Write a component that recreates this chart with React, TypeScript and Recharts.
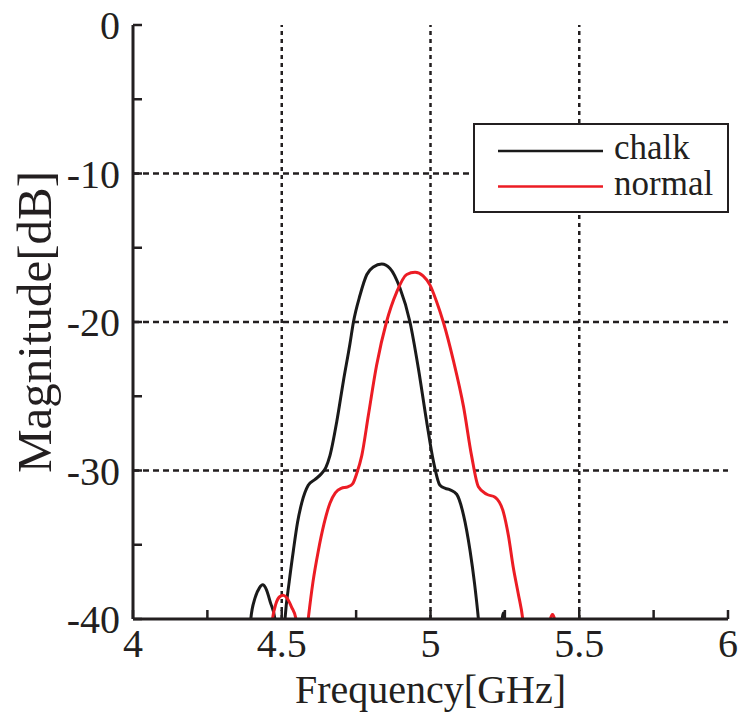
import React from "react";
import { LineChart, Line, XAxis, YAxis, ReferenceLine, Legend } from "recharts";

const FONT = '"Liberation Serif", "Times New Roman", serif';
const INK = "#231f20";

// frequency [GHz] / magnitude [dB]; values under -40 fall outside the frame
const chalk = [
  { f: 4.38, db: -45 }, { f: 4.396, db: -40 }, { f: 4.41, db: -38.6 }, { f: 4.425, db: -37.9 },
  { f: 4.436, db: -37.7 }, { f: 4.448, db: -38.0 }, { f: 4.462, db: -38.9 }, { f: 4.477, db: -40 },
  { f: 4.49, db: -44 }, { f: 4.5, db: -44 }, { f: 4.511, db: -40 }, { f: 4.525, db: -37.5 },
  { f: 4.539, db: -35.4 }, { f: 4.553, db: -33.5 }, { f: 4.567, db: -32.2 }, { f: 4.589, db: -31.0 },
  { f: 4.612, db: -30.6 }, { f: 4.634, db: -30.2 }, { f: 4.648, db: -29.8 }, { f: 4.662, db: -29.0 },
  { f: 4.685, db: -26.7 }, { f: 4.707, db: -24.0 }, { f: 4.729, db: -21.5 }, { f: 4.741, db: -20.0 },
  { f: 4.763, db: -18.2 }, { f: 4.786, db: -16.8 }, { f: 4.808, db: -16.3 }, { f: 4.836, db: -16.1 },
  { f: 4.864, db: -16.4 }, { f: 4.897, db: -17.7 }, { f: 4.931, db: -20.0 }, { f: 4.959, db: -23.1 },
  { f: 4.987, db: -26.7 }, { f: 5.01, db: -29.4 }, { f: 5.032, db: -31.0 }, { f: 5.05, db: -31.2 },
  { f: 5.066, db: -31.3 }, { f: 5.088, db: -31.6 }, { f: 5.111, db: -33.0 }, { f: 5.133, db: -35.4 },
  { f: 5.148, db: -37.6 }, { f: 5.161, db: -40 }, { f: 5.18, db: -45 },
  { f: 5.22, db: -46 }, { f: 5.238, db: -40.6 }, { f: 5.245, db: -39.6 }, { f: 5.252, db: -40.6 },
  { f: 5.27, db: -46 },
];

const normal = [
  { f: 4.45, db: -45 }, { f: 4.469, db: -40 }, { f: 4.48, db: -39 }, { f: 4.493, db: -38.5 },
  { f: 4.505, db: -38.4 }, { f: 4.518, db: -38.6 }, { f: 4.533, db: -39.2 }, { f: 4.548, db: -40 },
  { f: 4.568, db: -44 }, { f: 4.589, db: -40 }, { f: 4.605, db: -37.5 }, { f: 4.623, db: -35.4 },
  { f: 4.642, db: -33.6 }, { f: 4.662, db: -32.2 }, { f: 4.68, db: -31.5 }, { f: 4.7, db: -31.2 },
  { f: 4.722, db: -31.1 }, { f: 4.738, db: -30.9 }, { f: 4.752, db: -30.2 }, { f: 4.769, db: -29.0 },
  { f: 4.791, db: -26.3 }, { f: 4.819, db: -22.9 }, { f: 4.852, db: -20.0 }, { f: 4.886, db: -18.0 },
  { f: 4.92, db: -16.8 }, { f: 4.948, db: -16.65 }, { f: 4.975, db: -16.9 }, { f: 4.998, db: -17.5 },
  { f: 5.02, db: -18.6 }, { f: 5.043, db: -20.0 }, { f: 5.077, db: -22.6 }, { f: 5.111, db: -25.7 },
  { f: 5.138, db: -29.0 }, { f: 5.161, db: -31.1 }, { f: 5.189, db: -31.6 }, { f: 5.217, db: -31.8 },
  { f: 5.245, db: -32.8 }, { f: 5.262, db: -34.4 }, { f: 5.278, db: -36.5 }, { f: 5.295, db: -38.3 },
  { f: 5.31, db: -40 }, { f: 5.33, db: -45 },
  { f: 5.39, db: -42 }, { f: 5.403, db: -40 }, { f: 5.41, db: -39.7 }, { f: 5.417, db: -40 },
  { f: 5.43, db: -42 },
];

const xTicks = [4, 4.25, 4.5, 4.75, 5, 5.25, 5.5, 5.75, 6];
const xMajor = [4, 4.5, 5, 5.5, 6];
const yTicks = [0, -5, -10, -15, -20, -25, -30, -35, -40];
const yMajor = [0, -10, -20, -30, -40];
const xGrid = [4.5, 5, 5.5];
const yGrid = [-10, -20, -30];

const TICK_LEN = 9;

// inward ticks, labels only on the major values
const BottomTick = ({ x, y, payload }: any) => (
  <g>
    <line x1={x} y1={y} x2={x} y2={y - TICK_LEN} stroke={INK} strokeWidth={2.5} />
    {xMajor.includes(payload.value) && (
      <text x={x} y={y + 38} textAnchor="middle" fontSize={40} fontFamily={FONT} fill={INK}>
        {String(payload.value)}
      </text>
    )}
  </g>
);
const TopTick = ({ x, y }: any) => (
  <line x1={x} y1={y} x2={x} y2={y + TICK_LEN} stroke={INK} strokeWidth={2.5} />
);
const LeftTick = ({ x, y, payload }: any) => (
  <g>
    <line x1={x} y1={y} x2={x + TICK_LEN} y2={y} stroke={INK} strokeWidth={2.5} />
    {yMajor.includes(payload.value) && (
      <text x={x - 13} y={y + 14} textAnchor="end" fontSize={40} fontFamily={FONT} fill={INK}>
        {String(payload.value)}
      </text>
    )}
  </g>
);
const RightTick = ({ x, y }: any) => (
  <line x1={x} y1={y} x2={x - TICK_LEN} y2={y} stroke={INK} strokeWidth={2.5} />
);

const LegendBox = ({ payload }: any) => (
  <svg width={256} height={90} style={{ display: "block" }}>
    <rect x={1} y={1} width={254} height={88} fill="#fff" stroke={INK} strokeWidth={2} />
    {(payload || []).map((item: any, i: number) => (
      <g key={item.value}>
        <line x1={25} y1={28 + i * 35.5} x2={130} y2={28 + i * 35.5} stroke={item.color} strokeWidth={2.5} />
        <text x={141} y={36 + i * 36} fontSize={35} fontFamily={FONT} fill={INK}>
          {item.value}
        </text>
      </g>
    ))}
  </svg>
);

export default function App() {
  return (
    <div style={{ position: "absolute", left: 0, top: 0, background: "#fff" }}>
      <LineChart width={741} height={717} margin={{ top: 25, right: 13, bottom: 0, left: 0 }}>
        <XAxis
          dataKey="f"
          type="number"
          domain={[4, 6]}
          ticks={xTicks}
          height={98}
          tickSize={0}
          tickMargin={0}
          tick={<BottomTick />}
          axisLine={{ stroke: INK, strokeWidth: 3 }}
          label={{ value: "Frequency[GHz]", position: "insideBottom", offset: 14, fontSize: 40, fontFamily: FONT, fill: INK }}
        />
        <XAxis
          xAxisId="top"
          orientation="top"
          type="number"
          domain={[4, 6]}
          ticks={xTicks}
          height={0}
          tickSize={0}
          tickMargin={0}
          tick={<TopTick />}
          axisLine={{ stroke: INK, strokeWidth: 3 }}
        />
        <YAxis
          type="number"
          domain={[-40, 0]}
          allowDataOverflow
          ticks={yTicks}
          width={133}
          tickSize={0}
          tickMargin={0}
          tick={<LeftTick />}
          axisLine={{ stroke: INK, strokeWidth: 3 }}
          label={{
            value: "Magnitude[dB]",
            angle: -90,
            position: "insideLeft",
            offset: 34,
            fontSize: 49,
            fontFamily: FONT,
            fill: INK,
            style: { textAnchor: "middle" },
          }}
        />
        <YAxis
          yAxisId="right"
          orientation="right"
          type="number"
          domain={[-40, 0]}
          ticks={yTicks}
          width={0}
          tickSize={0}
          tickMargin={0}
          tick={<RightTick />}
          axisLine={{ stroke: INK, strokeWidth: 3 }}
        />
        {xGrid.map((v) => (
          <ReferenceLine key={"x" + v} x={v} stroke={INK} strokeWidth={2.5} strokeDasharray="4 4" />
        ))}
        {yGrid.map((v) => (
          <ReferenceLine key={"y" + v} y={v} stroke={INK} strokeWidth={2.5} strokeDasharray="6 4" />
        ))}
        <Line data={chalk} dataKey="db" name="chalk" type="monotone" stroke="#1a1a1a" strokeWidth={3} dot={false} isAnimationActive={false} />
        <Line data={normal} dataKey="db" name="normal" type="monotone" stroke="#ec1c24" strokeWidth={3} dot={false} isAnimationActive={false} />
        <Legend
          layout="vertical"
          align="center"
          verticalAlign="middle"
          content={<LegendBox />}
          wrapperStyle={{ position: "absolute", left: 473, top: 123, width: 256, height: 90 }}
        />
      </LineChart>
    </div>
  );
}
